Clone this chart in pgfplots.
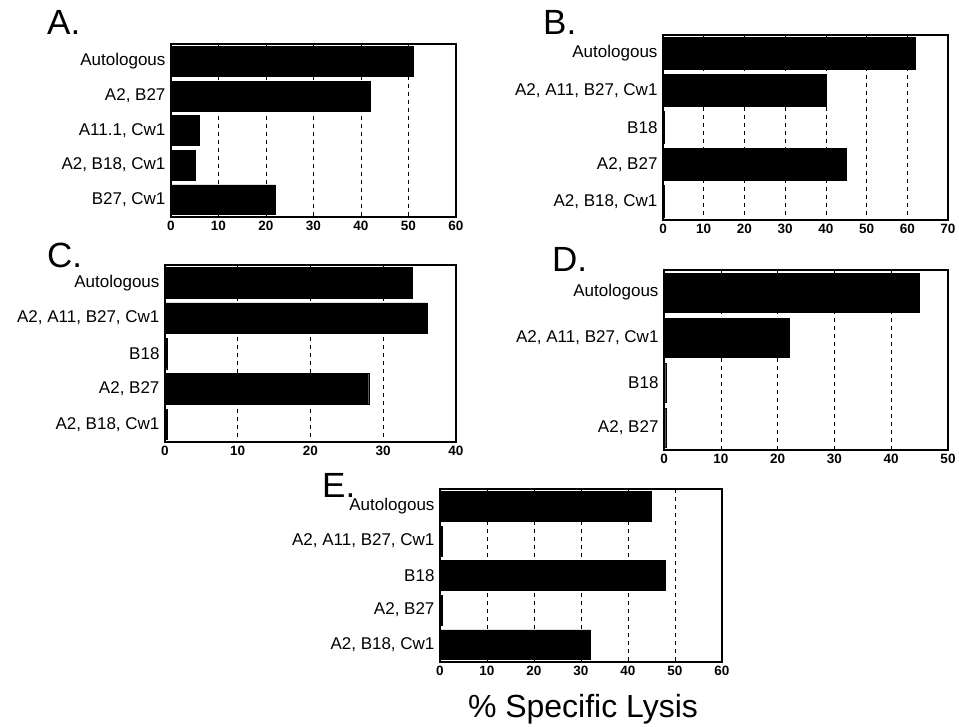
\documentclass[border=0pt]{standalone}
\usepackage{pgfplots}
\pgfplotsset{compat=1.18}
\usepackage{fontspec}
\setmainfont{Liberation Sans}
\pgfplotsset{panel/.style={
  xbar, scale only axis, anchor=north west,
  y dir=reverse, ymin=-0.5,
  xmin=0, bar width=0.86, bar shift=0pt,
  extra x tick labels={},
  extra x tick style={grid=major, major grid style={black, dash pattern=on 4pt off 4pt, line width=0.6pt}},
  axis line style={line width=1.1pt},
  major tick length=0pt,
  tick label style={font=\fontsize{13.5}{15}\selectfont\bfseries},
  yticklabel style={font=\fontsize{17}{19}\selectfont, xshift=-2pt},
  xticklabel style={yshift=-1pt},
  /pgf/number format/assume math mode=true,
}}
\begin{document}
\begin{tikzpicture}
\useasboundingbox (0,0) rectangle (959pt,726pt);
% A
\begin{axis}[panel, at={(171pt,682pt)}, width=285pt, height=173pt,
  xmax=60, xtick={0,10,...,60}, extra x ticks={10,20,...,50}, ymax=4.5, ytick={0,...,4},
  yticklabels={Autologous, {A2, B27}, {A11.1, Cw1}, {A2, B18, Cw1}, {B27, Cw1}}]
\addplot[fill=black, draw=black] coordinates {(51,0) (42,1) (6,2) (5,3) (22,4)};
\end{axis}
% B
\begin{axis}[panel, at={(663pt,691pt)}, width=285pt, height=185pt,
  xmax=70, xtick={0,10,...,70}, extra x ticks={10,20,...,60}, ymax=4.5, ytick={0,...,4},
  yticklabels={Autologous, {A2, A11, B27, Cw1}, B18, {A2, B27}, {A2, B18, Cw1}}]
\addplot[fill=black, draw=black] coordinates {(62,0) (40,1) (0.4,2) (45,3) (0.4,4)};
\end{axis}
% C
\begin{axis}[panel, at={(165pt,461pt)}, width=291pt, height=177pt,
  xmax=40, xtick={0,10,...,40}, extra x ticks={10,20,30}, ymax=4.5, ytick={0,...,4},
  yticklabels={Autologous, {A2, A11, B27, Cw1}, B18, {A2, B27}, {A2, B18, Cw1}}]
\addplot[fill=black, draw=black] coordinates {(34,0) (36,1) (0.3,2) (28,3) (0.3,4)};
\end{axis}
% D
\begin{axis}[panel, at={(664pt,456pt)}, width=284pt, height=180pt,
  xmax=50, xtick={0,10,...,50}, extra x ticks={10,20,...,40}, ymax=3.5, ytick={0,...,3},
  yticklabels={Autologous, {A2, A11, B27, Cw1}, B18, {A2, B27}}]
\addplot[fill=black, draw=black] coordinates {(45,0) (22,1) (0.3,2) (0.3,3)};
\end{axis}
% E
\begin{axis}[panel, at={(440pt,237pt)}, width=282pt, height=173pt,
  xmax=60, xtick={0,10,...,60}, extra x ticks={10,20,...,50}, ymax=4.5, ytick={0,...,4},
  yticklabels={Autologous, {A2, A11, B27, Cw1}, B18, {A2, B27}, {A2, B18, Cw1}}]
\addplot[fill=black, draw=black] coordinates {(45,0) (0.5,1) (48,2) (0.5,3) (32,4)};
\end{axis}
\node[anchor=base west, font=\fontsize{35}{40}\selectfont, inner sep=0pt] at (47pt,691pt) {A.};
\node[anchor=base west, font=\fontsize{35}{40}\selectfont, inner sep=0pt] at (543pt,691pt) {B.};
\node[anchor=base west, font=\fontsize{35}{40}\selectfont, inner sep=0pt] at (47pt,458pt) {C.};
\node[anchor=base west, font=\fontsize{35}{40}\selectfont, inner sep=0pt] at (552pt,454pt) {D.};
\node[anchor=base west, font=\fontsize{35}{40}\selectfont, inner sep=0pt] at (322pt,228pt) {E.};
\node[anchor=base, font=\fontsize{32}{36}\selectfont, inner sep=0pt] at (583pt,9pt) {\% Specific Lysis};
\end{tikzpicture}
\end{document}
